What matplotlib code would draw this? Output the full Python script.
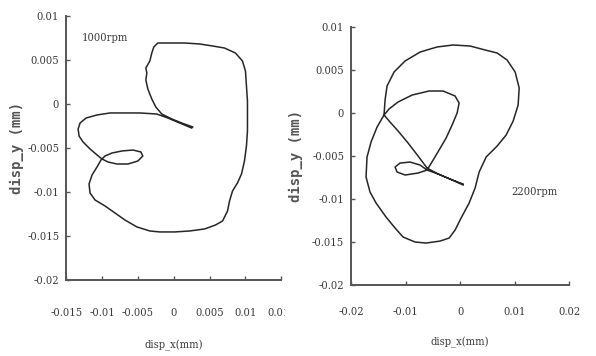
import numpy as np
import matplotlib
matplotlib.use("Agg")
import matplotlib.pyplot as plt
from matplotlib.transforms import Bbox

# orbit traces, values in 1e-3 mm
x_1000 = [2.50, 0.83, -0.83, -2.36, -4.72, -6.53, -8.89, -10.70, -12.22, -13.06, -13.33, -13.20,
          -12.64, -11.67, -10.70, -10.00, -9.17, -7.92, -6.39, -5.00, -4.31, -4.58, -5.69, -7.22,
          -8.61, -9.58, -10.14, -10.70, -11.39, -11.81, -11.67, -10.97, -9.58, -8.20, -6.81, -5.14,
          -3.33, -1.94, 0.14, 2.22, 4.31, 5.83, 6.81, 7.50, 7.78, 8.20, 8.89, 9.45, 9.86, 10.14,
          10.28, 10.28, 10.28, 10.14, 10.00, 9.58, 8.61, 7.08, 5.42, 3.61, 1.53, -0.56, -2.22,
          -2.78, -3.06, -3.33, -3.89, -3.75, -3.89, -3.61, -3.06, -2.50, -1.67, -0.28, 1.11, 2.64]
y_1000 = [-2.73, -2.16, -1.59, -1.14, -1.02, -1.02, -1.02, -1.25, -1.59, -2.16, -2.84, -3.64,
          -4.32, -5.11, -5.79, -6.25, -6.59, -6.82, -6.82, -6.48, -5.91, -5.45, -5.23, -5.34,
          -5.57, -5.91, -6.36, -7.16, -8.07, -9.09, -10.11, -10.91, -11.59, -12.38, -13.18, -13.97,
          -14.43, -14.54, -14.54, -14.43, -14.20, -13.75, -13.29, -12.16, -11.02, -9.88, -8.97,
          -7.95, -6.48, -4.77, -3.07, -1.36, 0.34, 2.04, 3.75, 4.89, 5.79, 6.36, 6.59, 6.82, 6.93,
          6.93, 6.93, 6.48, 5.79, 4.89, 4.09, 3.52, 2.73, 1.70, 0.57, -0.34, -1.14, -1.70, -2.16, -2.61]

x_2200 = [0.55, -1.84, -4.04, -6.06, -7.71, -10.09, -11.56, -11.93, -11.01, -9.18, -7.34, -6.06,
          -4.95, -3.85, -2.57, -1.47, -0.55, -0.18, -0.92, -3.12, -5.69, -8.81, -11.38, -13.03,
          -13.95, -15.23, -16.33, -17.07, -17.25, -16.52, -15.41, -13.58, -11.93, -10.46, -8.26,
          -6.24, -3.67, -2.02, -0.92, 0.18, 1.65, 2.75, 3.49, 4.77, 6.79, 8.44, 9.73, 10.64, 10.83,
          10.09, 8.62, 6.79, 4.59, 1.84, -1.28, -4.22, -7.34, -10.09, -12.11, -13.40, -13.76,
          -13.95, -12.85, -11.38, -9.54, -7.71, -6.06, -4.04, -1.84, 0.55]
y_2200 = [-8.37, -7.68, -7.09, -6.63, -6.98, -7.21, -6.86, -6.28, -5.82, -5.70, -6.05, -6.63,
          -5.47, -4.30, -2.91, -1.40, 0.00, 1.16, 1.98, 2.56, 2.56, 2.09, 1.28, 0.47,
          -0.23, -1.63, -3.37, -5.12, -7.44, -9.19, -10.47, -12.10, -13.37, -14.42, -15.00,
          -15.12, -14.89, -14.54, -13.61, -12.21, -10.47, -8.72, -6.86, -5.12, -3.84, -2.56, -0.93,
          0.93, 2.91, 4.77, 6.16, 6.98, 7.33, 7.79, 7.91, 7.68, 7.09, 6.05, 4.77, 3.14, 1.51,
          -0.23, -1.05, -2.09, -3.49, -5.00, -6.40, -7.09, -7.68, -8.26]

yticks = [0.01, 0.005, 0, -0.005, -0.01, -0.015, -0.02]
ytick_labels = ["0.01", "0.005", "0", "-0.005", "-0.01", "-0.015", "-0.02"]
xticks_1000 = [-0.015, -0.01, -0.005, 0, 0.005, 0.01, 0.015]
xtick_labels_1000 = ["-0.015", "-0.01", "-0.005", "0", "0.005", "0.01", "0.015"]
xticks_2200 = [-0.02, -0.01, 0, 0.01, 0.02]
xtick_labels_2200 = ["-0.02", "-0.01", "0", "0.01", "0.02"]

fnt = {"family": "DejaVu Serif", "stretch": "condensed"}
tcol = "#3a3a3a"

fig = plt.figure(figsize=(5.96, 3.56), dpi=100)
ax1 = fig.add_axes([0.111, 0.2135, 0.361, 0.7416])
ax2 = fig.add_axes([0.589, 0.1994, 0.366, 0.7247])


def style(ax, xt, xtl, xlim, xpad, xlpad, ylab_x):
    for s in ["top", "right"]:
        ax.spines[s].set_visible(False)
    for s in ["left", "bottom"]:
        ax.spines[s].set_color("#555555")
        ax.spines[s].set_linewidth(1.4)
    ax.set_xlim(*xlim)
    ax.set_ylim(-0.02, 0.01)
    ax.set_xticks(xt)
    ax.set_xticklabels(xtl, fontdict=fnt, fontsize=8, color=tcol)
    ax.set_yticks(yticks)
    ax.set_yticklabels(ytick_labels, fontdict=fnt, fontsize=8, color=tcol)
    ax.tick_params(axis="x", direction="in", length=3, width=1, color="#555555", pad=xpad)
    ax.tick_params(axis="y", direction="in", length=3, width=1, color="#555555", pad=5)
    ax.set_xlabel("disp_x(mm)", fontdict=fnt, fontsize=8, color=tcol, labelpad=xlpad)
    ax.set_ylabel("disp_y (mm)", family="DejaVu Sans Mono", fontsize=10,
                  fontweight="bold", color="#555555")
    ax.yaxis.set_label_coords(ylab_x, 0.5)


ax1.plot(np.array(x_1000) * 1e-3, np.array(y_1000) * 1e-3, color="#262626", lw=1.1)
ax2.plot(np.array(x_2200) * 1e-3, np.array(y_2200) * 1e-3, color="#262626", lw=1.1)
style(ax1, xticks_1000, xtick_labels_1000, (-0.015, 0.015), 20, 16, -0.195)
style(ax2, xticks_2200, xtick_labels_2200, (-0.02, 0.02), 16, 14, -0.22)

ax1.text(-0.0096, 0.0075, "1000rpm", fontdict=fnt, fontsize=8, color=tcol, ha="center", va="center")
ax2.text(0.0136, -0.0092, "2200rpm", fontdict=fnt, fontsize=8, color=tcol, ha="center", va="center")

# last x label of left panel is cut off in the original
clip = Bbox.from_extents(0, 0, 285 / 596, 1)
fig.canvas.draw()
for lab in ax1.get_xticklabels():
    lab.set_clip_box(fig.transFigure.transform_bbox(clip))
    lab.set_clip_on(True)

fig.savefig("out.png", dpi=100, facecolor="white")
